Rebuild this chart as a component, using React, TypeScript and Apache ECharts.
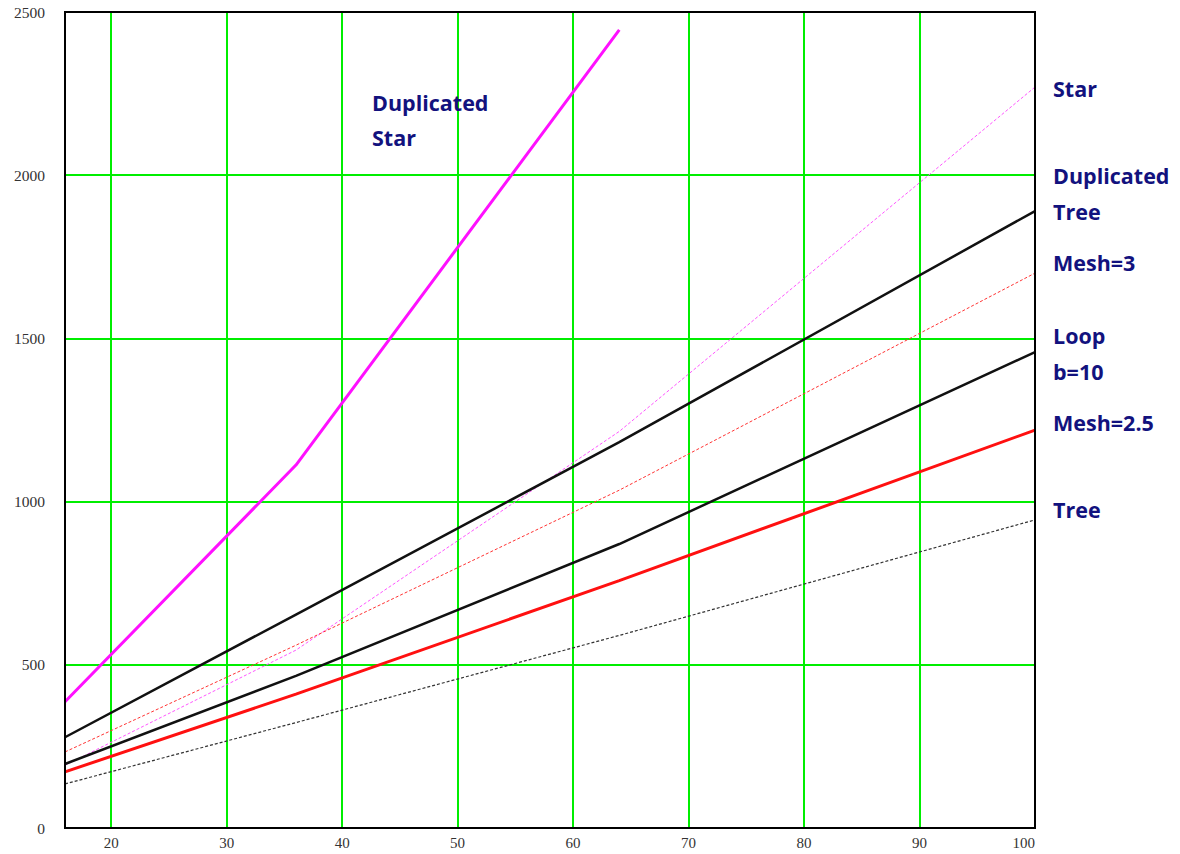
import React, { useEffect, useRef } from "react";
import * as echarts from "echarts";

const xValues = [16, 36, 64, 100];
const duplicatedStar = [387, 1112, 2445];
const star = [192, 545, 1215, 2270];
const duplicatedTree = [278, 654, 1182, 1890];
const mesh3 = [233, 560, 1035, 1700];
const loopB10 = [196, 466, 870, 1458];
const mesh25 = [172, 410, 758, 1219];
const tree = [135, 323, 590, 944];

const yTicks = [0, 500, 1000, 1500, 2000, 2500];

const rightLabels = [
  { text: "Star", y: 88 },
  { text: "Duplicated", y: 175 },
  { text: "Tree", y: 211 },
  { text: "Mesh=3", y: 262 },
  { text: "Loop", y: 335 },
  { text: "b=10", y: 371 },
  { text: "Mesh=2.5", y: 422 },
  { text: "Tree", y: 509 },
];
const insideLabels = [
  { text: "Duplicated", x: 372, y: 102 },
  { text: "Star", x: 372, y: 137 },
];

const GRID = { left: 65, right: 145, top: 12, bottom: 26 };
const W = 1180;
const H = 854;
const LABEL_COLOR = "#12127e";

function pairs(ys: number[]) {
  return ys.map((y, i) => [xValues[i], y]);
}

export default function App() {
  const ref = useRef<HTMLDivElement>(null);
  useEffect(() => {
    if (!ref.current) return;
    const chart = echarts.init(ref.current, undefined, { renderer: "svg" });
    const labelFont = {
      fontFamily: "Open Sans",
      fontWeight: "bold" as const,
      fontSize: 21.5,
      fill: LABEL_COLOR,
    };
    const mkLine = (name: string, ys: number[], color: string, width: number, dashed: boolean) => ({
      name,
      type: "line",
      data: pairs(ys),
      symbol: "none",
      smooth: false,
      lineStyle: { color, width, type: dashed ? [3, 2] : "solid" },
      z: dashed ? 3 : 4,
    });
    chart.setOption({
      animation: false,
      backgroundColor: "#ffffff",
      grid: { ...GRID, containLabel: false },
      xAxis: {
        type: "value",
        min: 16,
        max: 100,
        splitNumber: 8,
        axisLine: { show: false },
        axisTick: { show: false },
        axisLabel: {
          showMinLabel: false,
          alignMaxLabel: "right",
          margin: 7,
          fontFamily: "Liberation Serif",
          fontSize: 15,
          color: "#333",
        },
        splitLine: { show: true, lineStyle: { color: "#00ee00", width: 2 } },
      },
      yAxis: {
        type: "value",
        min: yTicks[0],
        max: yTicks[yTicks.length - 1],
        interval: 500,
        axisLine: { show: false },
        axisTick: { show: false },
        axisLabel: {
          margin: 20,
          fontFamily: "Liberation Serif",
          fontSize: 15.5,
          color: "#333",
          formatter: (v: number) => String(v),
        },
        splitLine: { show: true, lineStyle: { color: "#00ee00", width: 2 } },
      },
      series: [
        mkLine("Tree", tree, "#333333", 1.2, true),
        mkLine("Star", star, "#ff55ff", 1, true),
        mkLine("Mesh=3", mesh3, "#ff3333", 1, true),
        mkLine("Mesh=2.5", mesh25, "#ff1010", 3, false),
        mkLine("Loop b=10", loopB10, "#111111", 2.5, false),
        mkLine("Duplicated Tree", duplicatedTree, "#111111", 2.5, false),
        mkLine("Duplicated Star", duplicatedStar, "#ff10ff", 3, false),
      ],
      graphic: [
        {
          type: "rect",
          z: 100,
          shape: {
            x: GRID.left,
            y: GRID.top,
            width: W - GRID.left - GRID.right,
            height: H - GRID.top - GRID.bottom,
          },
          style: { fill: "none", stroke: "#000", lineWidth: 2 },
        },
        ...rightLabels.map((l) => ({
          type: "text",
          z: 100,
          x: 1053,
          y: l.y,
          style: { ...labelFont, text: l.text, verticalAlign: "middle" },
        })),
        ...insideLabels.map((l) => ({
          type: "text",
          z: 100,
          x: l.x,
          y: l.y,
          style: { ...labelFont, text: l.text, verticalAlign: "middle" },
        })),
      ],
    });
    return () => chart.dispose();
  }, []);
  return <div ref={ref} style={{ position: "fixed", left: 0, top: 0, width: W, height: H }} />;
}
